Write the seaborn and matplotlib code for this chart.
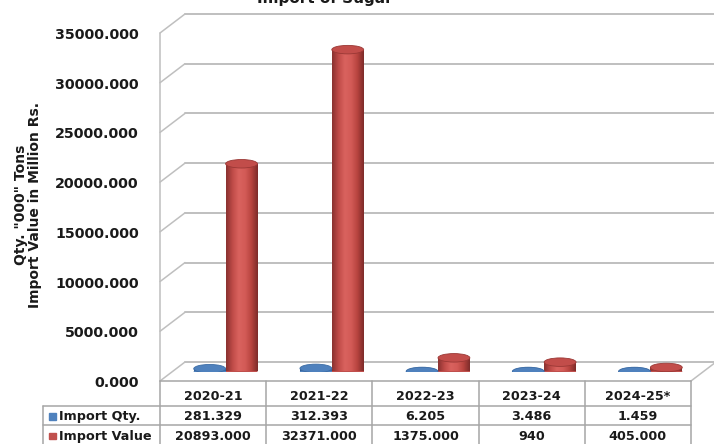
import numpy as np
import pandas as pd
import matplotlib
matplotlib.use("Agg")
import matplotlib.pyplot as plt
import seaborn as sns
from matplotlib.patches import Ellipse, Rectangle
from matplotlib.colors import LinearSegmentedColormap

# ---------------- data ----------------
years = ['2020-21', '2021-22', '2022-23', '2023-24', '2024-25*']
series = ['Import Qty.', 'Import Value']
import_qty = [281.329, 312.393, 6.205, 3.486, 1.459]
import_value = [20893.0, 32371.0, 1375.0, 940.0, 405.0]
qty_labels = ['281.329', '312.393', '6.205', '3.486', '1.459']
value_labels = ['20893.000', '32371.000', '1375.000', '940', '405.000']
y_ticks = [0, 5000, 10000, 15000, 20000, 25000, 30000, 35000]
title = 'Import of Sugar'
ylabel = 'Qty. "000" Tons\nImport Value in Million Rs.'

BLUE = '#4F81BD'
RED = '#C0504D'

sns.set_theme(style='white')
plt.rcParams['font.family'] = ['DejaVu Sans']

W, H = 714, 444
fig = plt.figure(figsize=(W / 100, H / 100), dpi=100)

# geometry (pixels)
FL, FR = 160, 691      # front plane left/right
FB, FT = 381, 33       # front plane y of 0 and of ymax
DX, DY = 25, 19        # depth offset of back wall
YMAX = y_ticks[-1]


def fx(px):
    return px / W


def fy(py):
    return 1 - py / H


def yf(v):
    return FB - (FB - FT) * v / YMAX


# overlay axes in pixel coordinates
ov = fig.add_axes([0, 0, 1, 1], zorder=0)
ov.set_xlim(0, W)
ov.set_ylim(H, 0)
ov.axis('off')

grid_c = '#BFBFBF'
for v in y_ticks:
    y0 = yf(v)
    ov.plot([FL, FL + DX], [y0, y0 - DY], color=grid_c, lw=1.1)
    ov.plot([FL + DX, W], [y0 - DY, y0 - DY], color=grid_c, lw=1.4)
    ov.text(FL - 21, y0 + 2, f'{v:.3f}', ha='right', va='center',
            fontsize=10.3, fontweight='bold', color='#1a1a1a')
ov.plot([FL, FL], [FT, FB], color=grid_c, lw=1.1)
ov.plot([FR, FR + DX], [FB, FB - DY], color=grid_c, lw=1.1)

# y label
ov.text(28, 205, ylabel, rotation=90, ha='center', va='center',
        fontsize=10, fontweight='bold', color='#1a1a1a', linespacing=1.0,
        multialignment='center')

# title (partly clipped at the top as in the reference)
fig.text(fx(325), fy(3), title, ha='center', va='baseline',
         fontsize=11, fontweight='bold', color='#1a1a1a')

# ---------------- table ----------------
table_c = '#A6A6A6'
TL = 43
cols = np.linspace(FL, FR, len(years) + 1)
r0, r1, r2 = 381, 406, 425
ov.plot([FL, FR], [r0, r0], color=table_c, lw=1.1)
ov.plot([TL, FR], [r1, r1], color=table_c, lw=1.1)
ov.plot([TL, FR], [r2, r2], color=table_c, lw=1.1)
for c in cols:
    ov.plot([c, c], [r0, H], color=table_c, lw=1.1)
ov.plot([TL, TL], [r1, H], color=table_c, lw=1.1)

centers = (cols[:-1] + cols[1:]) / 2
for i, yr in enumerate(years):
    ov.text(centers[i], 396, yr, ha='center', va='center', fontsize=9.2,
            fontweight='bold', color='#1a1a1a')
    ov.text(centers[i], 416.5, qty_labels[i], ha='center', va='center',
            fontsize=9.2, fontweight='bold', color='#1a1a1a')
    ov.text(centers[i], 436, value_labels[i], ha='center', va='center',
            fontsize=9.2, fontweight='bold', color='#1a1a1a')

for (name, col, yc) in [(series[0], BLUE, 416.5), (series[1], RED, 436)]:
    ov.add_patch(Rectangle((49, yc - 3.5), 6.5, 6.5, color=col))
    ov.text(59, yc, name, ha='left', va='center', fontsize=9.2,
            fontweight='bold', color='#1a1a1a')

# ---------------- bars (mid-depth plane) ----------------
mid = fig.add_axes([fx(FL + 12.5), fy(FB - 9.5), (FR - FL) / W, (FB - FT) / H],
                   zorder=2)
df = pd.DataFrame({
    'Year': years * 2,
    'Series': [series[0]] * len(years) + [series[1]] * len(years),
    'Value': import_qty + import_value,
})
sns.barplot(data=df, x='Year', y='Value', hue='Series', palette=[BLUE, RED],
            width=0.6, saturation=1, legend=False, errorbar=None, ax=mid)
mid.set_xlim(-0.5, len(years) - 0.5)
mid.set_ylim(0, YMAX)
mid.patch.set_visible(False)
for s in mid.spines.values():
    s.set_visible(False)
mid.set_xticks([])
mid.set_yticks([])
mid.set_xlabel('')
mid.set_ylabel('')

EH = 8.5 * YMAX / (FB - FT)  # ellipse height in data units

red_cmap = LinearSegmentedColormap.from_list(
    'redcyl', ['#8A3230', '#BF4B48', '#D9625E', '#D35B57', '#B8443F', '#7E2C2A'])
blue_cmap = LinearSegmentedColormap.from_list(
    'bluecyl', ['#2F5C92', '#4A7DBA', '#6393CC', '#4E80BC', '#33649C'])

grad = np.linspace(0, 1, 64).reshape(1, -1)
for p in list(mid.patches):
    x = p.get_x()
    w = p.get_width()
    h = p.get_height()
    fc = p.get_facecolor()
    is_red = fc[0] > 0.6
    cmap = red_cmap if is_red else blue_cmap
    p.set_edgecolor('none')
    cx = x + w / 2
    # bottom ellipse
    bot = Ellipse((cx, 0), w, EH, facecolor='#9E3B39' if is_red else '#3A67A0',
                  edgecolor='none', zorder=1)
    mid.add_patch(bot)
    p.set_zorder(2)
    if h > 0:
        im = mid.imshow(grad, cmap=cmap, extent=[x, x + w, 0, h],
                        aspect='auto', zorder=3, interpolation='bilinear')
        im.set_clip_path(p)
    top = Ellipse((cx, h), w, EH, facecolor='#C24D4A' if is_red else '#4F81BD',
                  edgecolor='#9A3835' if is_red else '#3C6CA5', lw=0.6,
                  zorder=4)
    mid.add_patch(top)

mid.set_xlim(-0.5, len(years) - 0.5)
mid.set_ylim(0, YMAX)

fig.savefig('out.png', dpi=100)
